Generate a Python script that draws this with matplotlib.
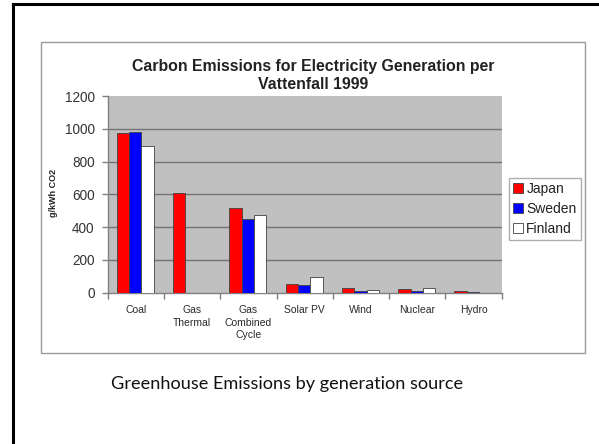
import matplotlib
matplotlib.use("Agg")
import matplotlib.pyplot as plt
from matplotlib.patches import Rectangle
from matplotlib.lines import Line2D
import numpy as np

categories = ["Coal", "Gas\nThermal", "Gas\nCombined\nCycle", "Solar PV", "Wind", "Nuclear", "Hydro"]
series_names = ["Japan", "Sweden", "Finland"]
japan = [975, 608, 518, 55, 30, 24, 10]
sweden = [978, 0, 451, 50, 10, 8, 4]
finland = [892, 0, 474, 98, 16, 26, 0]
series_colors = ["#FF0000", "#0000FF", "#FFFFFF"]
y_ticks = [0, 200, 400, 600, 800, 1000, 1200]

W, H = 599, 444
fig = plt.figure(figsize=(W / 100, H / 100), dpi=100)
fig.patch.set_facecolor("white")

def fx(px):
    return px / W

def fy(py):
    return 1 - py / H

# slide frame (left and top black border)
fig.add_artist(Line2D([fx(13), fx(13)], [fy(4), 0], color="black", lw=2.2))
fig.add_artist(Line2D([fx(13), 1], [fy(4), fy(4)], color="black", lw=2.2))

# chart area box, kept behind the axes
box = Rectangle((fx(41), fy(353)), fx(585) - fx(41), fy(42) - fy(353),
                facecolor="white", edgecolor="#9a9a9a", lw=1.0, zorder=-5)
fig.add_artist(box)

# plot area
left, right, top, bottom = 107.7, 501.7, 96.0, 292.7
ax = fig.add_axes([fx(left), fy(bottom), fx(right) - fx(left), fy(top) - fy(bottom)])
ax.set_zorder(2)
ax.set_facecolor("#C0C0C0")
ax.set_xlim(0, len(categories))
ax.set_ylim(0, 1200)

bw = 0.22
x = np.arange(len(categories)) + 0.49
for i, (vals, col, name) in enumerate(zip([japan, sweden, finland], series_colors, series_names)):
    ax.bar(x + (i - 1) * bw, vals, width=bw, color=col, edgecolor="#404040",
           linewidth=0.6, label=name, zorder=3)

ax.set_yticks(y_ticks)
ax.set_yticklabels([str(t) for t in y_ticks], fontsize=9.8, color="#333333",
                   family="Liberation Sans")
for t in y_ticks[1:-1]:
    ax.axhline(t, color="#747474", lw=1.0, zorder=1)

ax.set_xticks(np.arange(len(categories) + 1))
ax.set_xticklabels([])
ax.set_xticks(np.arange(len(categories)) + 0.5, minor=True)
ax.set_xticklabels(categories, minor=True, fontsize=7.5, color="#2a2a2a",
                   family="Liberation Sans", linespacing=1.3, va="top")
ax.tick_params(axis="x", which="minor", length=0, pad=9)
ax.tick_params(axis="x", which="major", length=4, color="#808080", width=1)
ax.tick_params(axis="y", length=4, color="#808080", width=1, pad=5.5)

for s in ["top", "right"]:
    ax.spines[s].set_visible(False)
for s in ["left", "bottom"]:
    ax.spines[s].set_color("#808080")
    ax.spines[s].set_linewidth(1.0)

fig.text(fx(54), fy(193), "g/kWh CO2", rotation=90, ha="center", va="center",
         fontsize=6.5, fontweight="bold", family="Liberation Sans", color="#222222")

fig.text(fx(313), fy(66), "Carbon Emissions for Electricity Generation per",
         ha="center", va="center", fontsize=11.4, fontweight="bold",
         family="Liberation Sans", color="#222222")
fig.text(fx(313), fy(84.5), "Vattenfall 1999",
         ha="center", va="center", fontsize=11.4, fontweight="bold",
         family="Liberation Sans", color="#222222")

leg = fig.legend(loc="upper left", bbox_to_anchor=(fx(509), fy(178)),
                 prop={"family": "Liberation Sans", "size": 10.0},
                 frameon=True, fancybox=False, edgecolor="#9a9a9a",
                 handlelength=0.7, handleheight=0.7, handletextpad=0.25,
                 borderpad=0.3, labelspacing=0.42, borderaxespad=0)
leg.get_frame().set_linewidth(1.0)
leg.set_zorder(3)
for txt in leg.get_texts():
    txt.set_color("#222222")

fig.text(fx(111), fy(384), "Greenhouse Emissions by generation source",
         ha="left", va="center", fontsize=13.1, family="Lato", color="#111111")

fig.savefig("out.png", dpi=100)
